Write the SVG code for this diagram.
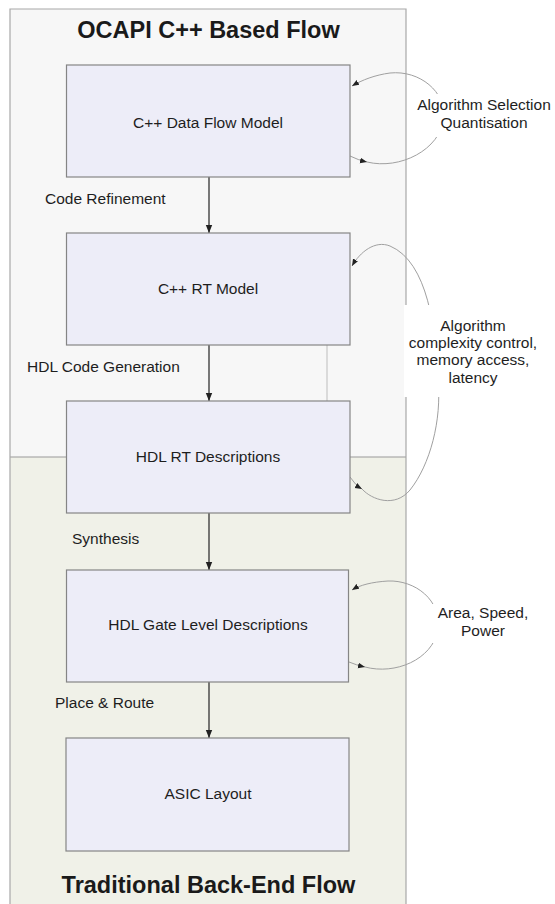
<svg xmlns="http://www.w3.org/2000/svg" width="555" height="904" viewBox="0 0 555 904">
  <defs>
    <style>
      .region-top { fill: #f7f7f7; stroke: none; }
      .region-bot { fill: #f0f1e8; stroke: none; }
      .frame { fill: none; stroke: #a8a8a8; stroke-width: 1.2; }
      .box { fill: #ededf8; stroke: #858585; stroke-width: 1.2; }
      .t { font-family: "Liberation Sans", Arial, sans-serif; font-size: 15.5px; fill: #1e1e1e; }
      .c { text-anchor: middle; }
      .title { font-family: "Liberation Sans", Arial, sans-serif; font-size: 23.5px; font-weight: bold; fill: #1a1a1a; text-anchor: middle; }
      .conn { stroke: #333; stroke-width: 1.3; fill: none; }
      .loop { stroke: #a0a0a0; stroke-width: 1; fill: none; }
      .lblbg { fill: #ffffff; stroke: none; }
    </style>
    <marker id="ah" viewBox="0 0 10 10" refX="10" refY="5" markerWidth="8" markerHeight="8" markerUnits="userSpaceOnUse" orient="auto">
      <path d="M0,1 L10,5 L0,9 Z" fill="#222"/>
    </marker>
    <marker id="ahs" viewBox="0 0 10 10" refX="10" refY="5" markerWidth="7" markerHeight="7" markerUnits="userSpaceOnUse" orient="auto">
      <path d="M0,1 L10,5 L0,9 Z" fill="#222"/>
    </marker>
  </defs>

  <rect width="555" height="904" fill="#ffffff"/>

  <g id="regions">
    <rect class="region-top" x="10" y="9" width="396" height="448"/>
    <rect class="region-bot" x="10" y="457" width="396" height="447"/>
    <line x1="10" y1="457" x2="406" y2="457" stroke="#9a9a9a" stroke-width="1.2"/>
    <path class="frame" d="M10,905 L10,9 L406,9 L406,905"/>
    <line x1="327" y1="345" x2="327" y2="401" stroke="#bdbdbd" stroke-width="1"/>
  </g>

  <g id="title-top"><text class="title" x="208.5" y="38">OCAPI C++ Based Flow</text></g>
  <g id="title-bottom"><text class="title" x="208.5" y="893">Traditional Back-End Flow</text></g>

  <g id="connectors">
    <line class="conn" x1="209" y1="177" x2="209" y2="233" marker-end="url(#ah)"/>
    <line class="conn" x1="209" y1="345" x2="209" y2="401" marker-end="url(#ah)"/>
    <line class="conn" x1="209" y1="513" x2="209" y2="570" marker-end="url(#ah)"/>
    <line class="conn" x1="209" y1="682" x2="209" y2="738" marker-end="url(#ah)"/>

    <path class="loop" d="M350,156 Q358,160 367,162" marker-end="url(#ahs)"/>
    <path class="loop" d="M367,162 C400,170 440,150 444,118 C446,92 420,70 390,73 C375,75 362,80 352,86" marker-end="url(#ahs)"/>

    <path class="loop" d="M350,477 Q355,485 362,489" marker-end="url(#ahs)"/>
    <path class="loop" d="M362,489 C372,500 395,508 410,490 C430,465 442,420 438,380 C436,330 428,262 390,246 C375,240 360,252 352,266" marker-end="url(#ahs)"/>

    <path class="loop" d="M349,662 Q356,665 365,667" marker-end="url(#ahs)"/>
    <path class="loop" d="M365,667 C395,675 432,660 438,630 C442,600 415,580 388,581 C372,582 360,585 352,590" marker-end="url(#ahs)"/>
  </g>

  <g id="label-edge-1"><text class="t" x="45" y="204">Code Refinement</text></g>
  <g id="label-edge-2"><text class="t" x="27" y="372">HDL Code Generation</text></g>
  <g id="label-edge-3"><text class="t" x="72" y="544">Synthesis</text></g>
  <g id="label-edge-4"><text class="t" x="55" y="708">Place &amp; Route</text></g>

  <g id="node-dataflow">
    <rect class="box" x="66.5" y="65" width="283.5" height="112"/>
    <text class="t c" x="208" y="128">C++ Data Flow Model</text>
  </g>
  <g id="node-rt">
    <rect class="box" x="66.5" y="233" width="283.5" height="112"/>
    <text class="t c" x="208" y="294">C++ RT Model</text>
  </g>
  <g id="node-hdlrt">
    <rect class="box" x="66.5" y="401" width="283.5" height="112"/>
    <text class="t c" x="208" y="462">HDL RT Descriptions</text>
  </g>
  <g id="node-gate">
    <rect class="box" x="66.5" y="570" width="282" height="112"/>
    <text class="t c" x="208" y="630">HDL Gate Level Descriptions</text>
  </g>
  <g id="node-asic">
    <rect class="box" x="66" y="738" width="283" height="113"/>
    <text class="t c" x="208" y="799">ASIC Layout</text>
  </g>

  <g id="label-loop-1">
    <rect class="lblbg" x="412" y="94" width="143" height="43"/>
    <text class="t c" x="484" y="110">Algorithm Selection</text>
    <text class="t c" x="484" y="128">Quantisation</text>
  </g>
  <g id="label-loop-2">
    <rect class="lblbg" x="404" y="305" width="151" height="92"/>
    <text class="t c" x="473" y="331">Algorithm</text>
    <text class="t c" x="473" y="348">complexity control,</text>
    <text class="t c" x="473" y="365">memory access,</text>
    <text class="t c" x="473" y="383">latency</text>
  </g>
  <g id="label-loop-3">
    <rect class="lblbg" x="425" y="604" width="130" height="39"/>
    <text class="t c" x="483" y="618">Area, Speed,</text>
    <text class="t c" x="483" y="636">Power</text>
  </g>
</svg>
